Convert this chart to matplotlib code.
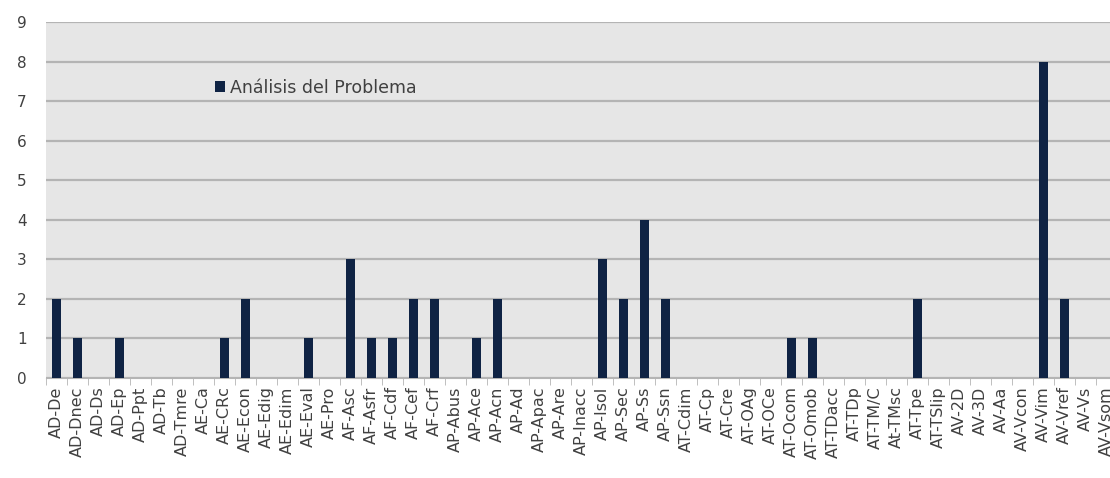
import numpy as np
import matplotlib.pyplot as plt

categorias = ['AD-De', 'AD-Dnec', 'AD-Ds', 'AD-Ep', 'AD-Ppt', 'AD-Tb', 'AD-Tmre',
              'AE-Ca', 'AE-CRc', 'AE-Econ', 'AE-Edig', 'AE-Edim', 'AE-Eval', 'AE-Pro',
              'AF-Asc', 'AF-Asfr', 'AF-Cdf', 'AF-Cef', 'AF-Crf',
              'AP-Abus', 'AP-Ace', 'AP-Acn', 'AP-Ad', 'AP-Apac', 'AP-Are', 'AP-Inacc',
              'AP-Isol', 'AP-Sec', 'AP-Ss', 'AP-Ssn',
              'AT-Cdim', 'AT-Cp', 'AT-Cre', 'AT-OAg', 'AT-OCe', 'AT-Ocom', 'AT-Omob',
              'AT-TDacc', 'AT-TDp', 'AT-TM/C', 'At-TMsc', 'AT-Tpe', 'AT-TSlip',
              'AV-2D', 'AV-3D', 'AV-Aa', 'AV-Vcon', 'AV-Vim', 'AV-Vref', 'AV-Vs', 'AV-Vsom']

valores = [2, 1, 0, 1, 0, 0, 0,
           0, 1, 2, 0, 0, 1, 0,
           3, 1, 1, 2, 2,
           0, 1, 2, 0, 0, 0, 0,
           3, 2, 4, 2,
           0, 0, 0, 0, 0, 1, 1,
           0, 0, 0, 0, 2, 0,
           0, 0, 0, 0, 8, 2, 0, 0]

serie = 'Análisis del Problema'

fig = plt.figure(figsize=(11.1, 4.78), dpi=100)
ax = fig.add_axes([46/1110, 100/478, 1071/1110, 356/478])
ax.set_facecolor('#e6e6e6')

x = np.arange(len(categorias))
ax.bar(x, valores, width=0.43, color='#0f2344', label=serie, zorder=3)

ax.set_xlim(-0.5, len(categorias) - 0.5)
ax.set_ylim(0, 9)
ax.set_yticks(range(0, 10))
ax.yaxis.grid(True, color='#b4b4b4', linewidth=1.6, zorder=0)
ax.set_axisbelow(True)

ax.set_xticks(x)
ax.set_xticklabels(categorias, rotation=90, fontsize=11.5, color='#404040')
ax.set_xticks(np.arange(-0.5, len(categorias)), minor=True)
ax.tick_params(axis='x', which='major', length=0, pad=6)
ax.tick_params(axis='x', which='minor', length=5, color='#b4b4b4')
ax.tick_params(axis='y', length=0, labelsize=11, labelcolor='#404040', pad=14)

for s in ['top', 'right', 'left']:
    ax.spines[s].set_visible(False)
ax.spines['bottom'].set_color('#b4b4b4')

ax.legend(loc='upper left', bbox_to_anchor=(0.143, 0.885), frameon=False,
          fontsize=12.5, handlelength=0.6, handleheight=0.6, handletextpad=0.3,
          labelcolor='#404040')

fig.savefig('out.png', dpi=100)
